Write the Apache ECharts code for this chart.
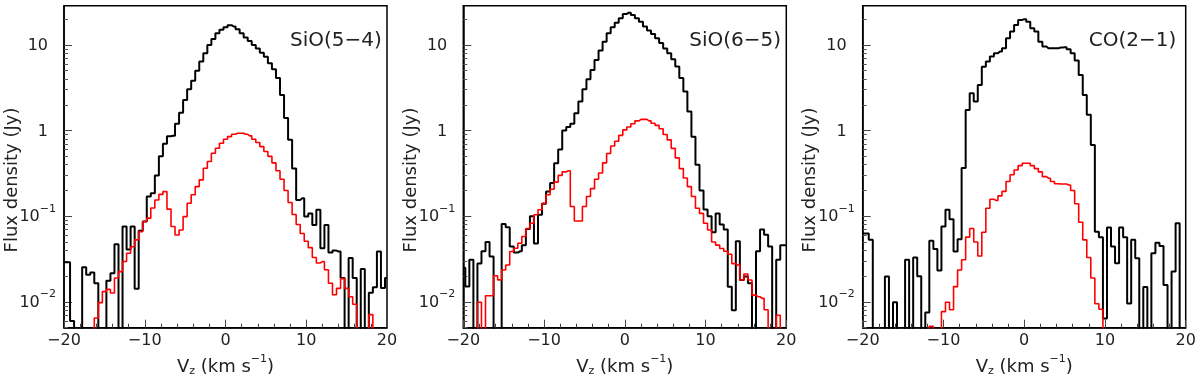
<!DOCTYPE html>
<html><head><meta charset="utf-8">
<script src="https://cdn.jsdelivr.net/npm/echarts@6/dist/echarts.min.js"></script>
<style>html,body{margin:0;padding:0;background:#fff}#c{width:1200px;height:380px}</style>
</head><body><div id="c"></div>
<script>
// Bin centres (km/s), 0.5 km/s bins
const vz = [-20,-19.5,-19,-18.5,-18,-17.5,-17,-16.5,-16,-15.5,-15,-14.5,-14,-13.5,-13,-12.5,-12,-11.5,-11,-10.5,
  -10,-9.5,-9,-8.5,-8,-7.5,-7,-6.5,-6,-5.5,-5,-4.5,-4,-3.5,-3,-2.5,-2,-1.5,-1,-0.5,
  0,0.5,1,1.5,2,2.5,3,3.5,4,4.5,5,5.5,6,6.5,7,7.5,8,8.5,9,9.5,
  10,10.5,11,11.5,12,12.5,13,13.5,14,14.5,15,15.5,16,16.5,17,17.5,18,18.5,19,19.5,20];

// SiO(5-4): total (black) and selected (red); 0 = empty bin
const sio54Total = [0.029,0.029,0.006,0,0,0.0254,0.0207,0.022,0.0165,0,0,0.0177,0.0216,0.047,0,0.0757,0.041,0.0757,0.0142,0.0675,
  0.0867,0.17,0.185,0.30,0.50,0.70,0.86,0.87,1.2,1.62,2.28,3.03,3.83,5.0,6.4,8.0,10.0,11.7,13.7,15.0,
  16.1,17.0,16.4,15.2,13.7,12.2,11.1,10.0,9.06,8.1,7.3,6.1,5.2,4.1,2.6,1.4,0.78,0.36,0.155,0.162,
  0.099,0.108,0.079,0.119,0.0423,0.079,0.0377,0.0398,0.0387,0.019,0,0.0325,0.019,0,0.0242,0,0.0128,0.0148,0.0388,0.0145,0.019];
const sio54Red = [0,0,0,0,0,0,0,0,0.0065,0.0098,0.0132,0.014,0.0127,0.019,0.0226,0.0296,0.037,0.044,0.053,0.066,
  0.087,0.095,0.125,0.155,0.18,0.194,0.121,0.076,0.0605,0.069,0.099,0.142,0.178,0.222,0.266,0.363,0.435,0.544,0.622,0.711,
  0.792,0.851,0.906,0.931,0.931,0.906,0.868,0.792,0.726,0.65,0.57,0.5,0.42,0.34,0.27,0.2,0.145,0.105,0.08,0.063,
  0.051,0.043,0.033,0.0285,0.0295,0.0237,0.0165,0.0121,0.0144,0.0187,0.0144,0.0115,0.0094,0,0,0,0.0071,0,0,0,0];

// SiO(6-5)
const sio65Total = [0.025,0.0151,0.031,0,0.028,0.039,0.05,0.034,0,0,0.081,0.0745,0.0443,0.0377,0.039,0.046,0.071,0.1,0.048,0.104,
  0.14,0.195,0.245,0.416,0.6,1.0,1.1,1.2,1.59,2.18,3.04,3.97,5.1,6.68,8.6,10.9,13.7,16.1,18.2,20.5,
  23.0,23.8,22.4,20.5,18.7,16.4,14.7,13.4,12.0,10.5,9.1,8.0,6.8,5.6,4.1,2.85,1.67,0.85,0.4,0.2,
  0.12,0.1,0.065,0.108,0.08,0.07,0.015,0.008,0.051,0.018,0.0198,0.0165,0,0.039,0.07,0.061,0.0443,0,0.031,0.046,0.046];
const sio65Red = [0,0,0,0,0.0099,0,0.0118,0.0118,0.0202,0.0181,0.0236,0.027,0.0387,0.0423,0.0484,0.058,0.072,0.083,0.104,0.119,
  0.142,0.178,0.207,0.25,0.3,0.33,0.34,0.13,0.088,0.088,0.13,0.17,0.21,0.27,0.32,0.42,0.54,0.66,0.75,0.88,
  1.02,1.1,1.2,1.3,1.35,1.35,1.3,1.22,1.15,1.05,0.9,0.78,0.62,0.48,0.36,0.28,0.222,0.17,0.124,0.108,
  0.083,0.069,0.05,0.046,0.042,0.039,0.036,0.028,0.027,0.018,0.0212,0.018,0.012,0.0115,0.011,0.0081,0,0,0.007,0,0];

// CO(2-1)
const co21Total = [0.063,0.063,0.053,0,0,0,0.0198,0,0.0099,0,0,0.031,0,0.033,0.02,0,0.0075,0.0517,0.0415,0.0232,
  0.0757,0.119,0.092,0.0387,0.054,0.365,1.74,2.73,2.18,3.41,5.58,6.4,7.31,8.0,8.4,9.15,11.96,14.3,17.1,19.6,
  19.9,18.7,15.7,14.3,10.9,9.57,9.15,9.15,9.15,9.3,9.4,8.9,8.0,6.6,4.47,2.61,1.53,0.68,0.066,0.057,
  0.0064,0.074,0.0443,0.0283,0.074,0.057,0.0096,0.053,0.0323,0,0.0149,0,0.037,0.049,0.045,0.0158,0,0.0226,0.083,0,0];
const co21Red = [0,0,0,0,0,0,0,0,0,0,0,0,0,0,0,0,0,0.0052,0,0,
  0.0077,0.0099,0.0081,0.0151,0.0236,0.031,0.057,0.072,0.05,0.0344,0.065,0.124,0.158,0.153,0.173,0.195,0.254,0.305,0.347,0.39,
  0.416,0.416,0.39,0.36,0.33,0.29,0.278,0.254,0.24,0.238,0.238,0.232,0.2,0.14,0.085,0.053,0.033,0.019,0.0095,0.0082,
  0,0,0,0,0,0,0,0,0,0,0,0,0,0,0,0,0,0,0,0,0];

const panelLabels = ['SiO(5\u22124)', 'SiO(6\u22125)', 'CO(2\u22121)'];
const xTickValues = [-20, -10, 0, 10, 20];
const yMajorTicks = [0.01, 0.1, 1, 10];
const yMinorTicks = [0.005,0.006,0.007,0.008,0.009,0.02,0.03,0.04,0.05,0.06,0.07,0.08,0.09,
  0.2,0.3,0.4,0.5,0.6,0.7,0.8,0.9,2,3,4,5,6,7,8,9,20];
const yTitle = 'Flux density (Jy)';

const FONT = 'DejaVu Sans';
const TXT = '#222';
const EMPTY = 1e-4; // drawn below the frame (empty bin)
const panels = [
  {label: panelLabels[0], total: sio54Total, red: sio54Red},
  {label: panelLabels[1], total: sio65Total, red: sio65Red},
  {label: panelLabels[2], total: co21Total, red: co21Red}
];
const lefts = [64, 463.3, 862.7];
const W = 323, TOP = 5.7, H = 322;
const YMIN = 0.005, YMAX = 28.7;

const grids = [], xAxes = [], yAxes = [], series = [], graphics = [];
const fmtMinus = v => (v < 0 ? '\u2212' + Math.abs(v) : String(v));

panels.forEach((p, i) => {
  grids.push({left: lefts[i], top: TOP, width: W, height: H, show: true,
    borderColor: '#000', borderWidth: 1.5, backgroundColor: 'transparent',
    containLabel: false, outerBoundsMode: 'none'});
  xAxes.push({
    type: 'value', gridIndex: i, min: -20, max: 20, interval: 10,
    axisLine: {show: true, onZero: false, lineStyle: {color: '#000', width: 1.5}},
    axisTick: {show: true, inside: true, length: 8, lineStyle: {color: '#444', width: 1}},
    minorTick: {show: true, splitNumber: 5, length: 4, lineStyle: {color: '#444', width: 1}},
    splitLine: {show: false}, minorSplitLine: {show: false},
    axisLabel: {show: true, showMinLabel: true, showMaxLabel: true, hideOverlap: false,
      fontFamily: FONT, fontSize: 16, color: TXT, margin: 5, formatter: fmtMinus},
    name: '{n|V}{s|z}{n| (km s}{p|\u22121}{n|)}',
    nameLocation: 'middle', nameGap: 20,
    nameTextStyle: {fontFamily: FONT, fontSize: 18, color: TXT, rich: {
      n: {fontFamily: FONT, fontSize: 18, color: TXT, lineHeight: 20, verticalAlign: 'bottom'},
      s: {fontFamily: FONT, fontSize: 11, color: TXT, lineHeight: 11, verticalAlign: 'bottom'},
      p: {fontFamily: FONT, fontSize: 11, color: TXT, lineHeight: 11, verticalAlign: 'bottom', padding: [0, 0, 12, 0]}
    }}
  });
  yAxes.push({
    type: 'log', logBase: 10, gridIndex: i, min: YMIN, max: YMAX, position: 'left',
    axisLine: {show: true, onZero: false, lineStyle: {color: '#000', width: 1.5}},
    axisTick: {show: true, inside: true, length: 8, customValues: yMajorTicks, lineStyle: {color: '#444', width: 1}},
    minorTick: {show: false},
    splitLine: {show: false},
    axisLabel: {show: true, customValues: yMajorTicks, margin: 8, fontFamily: FONT, fontSize: 16, color: TXT,
      formatter: v => {
        const e = Math.round(Math.log10(v));
        if (e === 0) return '{b|1}';
        if (e === 1) return '{b|10}';
        return '{c|10}{e|\u2212' + Math.abs(e) + '}';
      },
      rich: {
        b: {fontFamily: FONT, fontSize: 16, color: TXT, lineHeight: 18, verticalAlign: 'bottom', padding: [0, 8, 0, 0]},
        c: {fontFamily: FONT, fontSize: 16, color: TXT, lineHeight: 18, verticalAlign: 'bottom'},
        e: {fontFamily: FONT, fontSize: 11, color: TXT, lineHeight: 11, verticalAlign: 'bottom', padding: [0, 0, 11, 0]}
      }}
  });
  yAxes.push({
    type: 'log', logBase: 10, gridIndex: i, min: YMIN, max: YMAX, position: 'left', offset: 0,
    axisLine: {show: false, onZero: false},
    axisTick: {show: true, inside: true, length: 4, customValues: yMinorTicks, lineStyle: {color: '#555', width: 1}},
    axisLabel: {show: false}, splitLine: {show: false}
  });
  const mk = arr => vz.map((x, k) => [x, arr[k] > 0 ? arr[k] : EMPTY]);
  series.push({type: 'line', xAxisIndex: i, yAxisIndex: 2 * i, step: 'middle', data: mk(p.total),
    symbol: 'none', showSymbol: false, clip: true, animation: false, z: 2,
    lineStyle: {color: '#000', width: 2}});
  series.push({type: 'line', xAxisIndex: i, yAxisIndex: 2 * i, step: 'middle', data: mk(p.red),
    symbol: 'none', showSymbol: false, clip: true, animation: false, z: 3,
    lineStyle: {color: '#ff0000', width: 1.6}});
  graphics.push({type: 'text', left: lefts[i] + W - 7 - 90, top: 31,
    style: {text: p.label, font: '20px "' + FONT + '"', fill: TXT, width: 90, align: 'right'},
    silent: true});
  graphics.push({type: 'text', x: lefts[i] - 52, y: 180, rotation: Math.PI / 2,
    style: {text: yTitle, font: '18px "' + FONT + '"', fill: TXT, align: 'center', verticalAlign: 'middle'},
    silent: true});
});

const chart = echarts.init(document.getElementById('c'), null, {renderer: 'canvas'});
chart.setOption({
  animation: false,
  backgroundColor: '#fff',
  grid: grids, xAxis: xAxes, yAxis: yAxes, series: series,
  graphic: graphics
});
</script></body></html>
